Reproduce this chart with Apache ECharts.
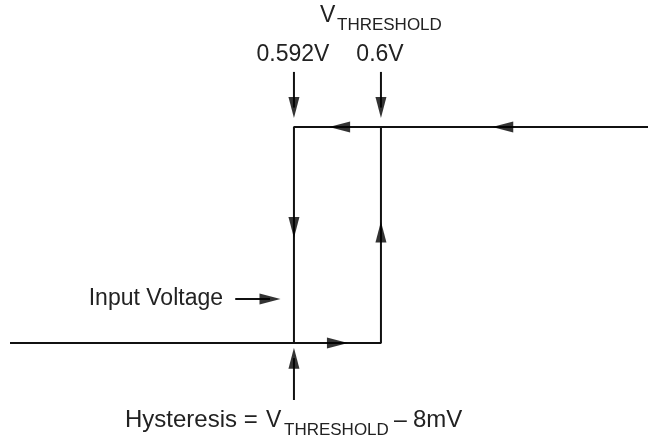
<!DOCTYPE html>
<html>
<head>
<meta charset="utf-8">
<script src="https://cdn.jsdelivr.net/npm/echarts@6/dist/echarts.min.js"></script>
<style>
    html, body{margin:0; padding:0; background:#fff;}
    #ChartMain{width:650px; height:442px;}
</style>
</head>
<body>
<div id="ChartMain"></div>
<script type="text/javascript">
    // thresholds (V) and the sweep of input voltage drawn
    var vLow = 0.592, vHigh = 0.6;
    var vMin = 0.5659, vMax = 0.62455;
    // output state: 0 = low, 1 = high
    var risingPath = [[vMin, 0], [vHigh, 0], [vHigh, 1], [vMax, 1]];
    var fallingPath = [[vMax, 1], [vLow, 1], [vLow, 0], [vMin, 0]];
    // arrow heads along the loop: [x, y, rotation]
    var pathArrows = [[0.5960, 0, -90], [0.5962, 1, 90], [0.6112, 1, 90], [vLow, 0.535, 180], [vHigh, 0.514, 0]];
    // pointer arrows: start, end of shaft and head rotation
    var pointers = [
        [[vLow, 1.255], [vLow, 1.09], 180],
        [[vHigh, 1.255], [vHigh, 1.09], 180],
        [[vLow, -0.264], [vLow, -0.07], 0],
        [[0.5866, 0.204], [0.5898, 0.204], -90]
    ];

    var ink = '#111';
    var font = '"Liberation Sans", Arial, Helvetica, sans-serif';
    var myChart = echarts.init(document.getElementById('ChartMain'));

    var series = [
        {type: 'line', data: risingPath, showSymbol: false, lineStyle: {color: ink, width: 2}},
        {type: 'line', data: fallingPath, showSymbol: false, lineStyle: {color: ink, width: 2}}
    ];
    pointers.forEach(function (p) {
        series.push({type: 'line', data: [p[0], p[1]], showSymbol: false, lineStyle: {color: ink, width: 2}});
    });
    var heads = pathArrows.map(function (a) {
        return {value: [a[0], a[1]], symbolRotate: a[2]};
    });
    pointers.forEach(function (p) {
        heads.push({value: p[1], symbolRotate: p[2]});
    });
    series.push({
        type: 'scatter', data: heads, symbol: 'triangle', symbolSize: [11, 21],
        itemStyle: {color: '#000'}, z: 5
    });

    function txt(x, y, s, size, align) {
        return {type: 'text', x: x, y: y, style: {
            text: s, fill: '#222', font: size + 'px ' + font,
            textAlign: align || 'left', textVerticalAlign: 'middle'
        }};
    }

    var option = {
        animation: false,
        grid: {left: 0, right: 0, top: 0, bottom: 0},
        xAxis: {type: 'value', min: 0.56497, max: 0.62474, show: false},
        yAxis: {type: 'value', min: -0.4583, max: 1.588, show: false},
        series: series,
        graphic: [
            txt(320, 15.5, 'V', 23),
            txt(337, 25, 'THRESHOLD', 17),
            txt(293, 54.5, vLow + 'V', 23, 'center'),
            txt(380, 54.5, vHigh + 'V', 23, 'center'),
            txt(223, 299, 'Input Voltage', 23, 'right'),
            txt(125, 420.5, 'Hysteresis =', 24),
            txt(266, 420.5, 'V', 23),
            txt(284, 430, 'THRESHOLD', 17),
            txt(394, 420.5, '\u2013', 23),
            txt(413, 420.5, Math.round((vHigh - vLow) * 1000) + 'mV', 24)
        ]
    };
    myChart.setOption(option);
</script>
</body>
</html>
